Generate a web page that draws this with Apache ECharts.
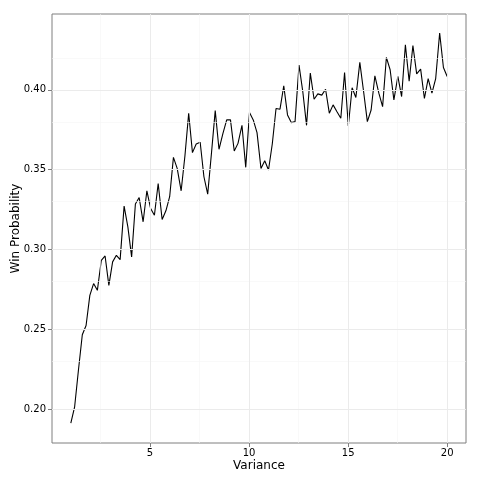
<!DOCTYPE html>
<html><head><meta charset="utf-8">
<script src="https://cdn.jsdelivr.net/npm/echarts@6/dist/echarts.min.js"></script>
<style>html,body{margin:0;padding:0;background:#fff}#c{width:480px;height:480px}</style>
</head><body><div id="c"></div>
<script>
const variance = [1.00,1.19,1.38,1.58,1.77,1.96,2.15,2.34,2.54,2.73,2.92,3.11,3.30,3.49,3.69,3.88,4.07,4.26,4.45,4.65,4.84,5.03,5.22,5.41,5.61,5.80,5.99,6.18,6.37,6.57,6.76,6.95,7.14,7.33,7.53,7.72,7.91,8.10,8.29,8.48,8.68,8.87,9.06,9.25,9.44,9.64,9.83,10.02,10.21,10.40,10.60,10.79,10.98,11.17,11.36,11.56,11.75,11.94,12.13,12.32,12.52,12.71,12.90,13.09,13.28,13.47,13.67,13.86,14.05,14.24,14.43,14.63,14.82,15.01,15.20,15.39,15.59,15.78,15.97,16.16,16.35,16.55,16.74,16.93,17.12,17.31,17.51,17.70,17.89,18.08,18.27,18.46,18.66,18.85,19.04,19.23,19.42,19.62,19.81,20.00];
const winProb = [0.1914,0.2013,0.2240,0.2467,0.2525,0.2713,0.2787,0.2745,0.2933,0.2960,0.2776,0.2923,0.2964,0.2937,0.3272,0.3142,0.2954,0.3285,0.3326,0.3174,0.3368,0.3257,0.3215,0.3414,0.3188,0.3243,0.3331,0.3577,0.3508,0.3368,0.3586,0.3854,0.3607,0.3661,0.3672,0.3456,0.3347,0.3603,0.3870,0.3628,0.3728,0.3812,0.3812,0.3617,0.3665,0.3778,0.3515,0.3858,0.3812,0.3732,0.3508,0.3556,0.3498,0.3661,0.3883,0.3879,0.4025,0.3843,0.3795,0.3801,0.4155,0.3990,0.3778,0.4105,0.3941,0.3975,0.3967,0.4004,0.3854,0.3906,0.3864,0.3822,0.4109,0.3774,0.4013,0.3952,0.4172,0.3990,0.3801,0.3874,0.4088,0.3979,0.3895,0.4203,0.4126,0.3937,0.4084,0.3958,0.4282,0.4054,0.4278,0.4100,0.4130,0.3946,0.4071,0.3979,0.4071,0.4356,0.4140,0.4084];
const xTicks = [5, 10, 15, 20];
const xMinor = [2.5, 7.5, 12.5, 17.5];
const yTicks = [0.20, 0.25, 0.30, 0.35, 0.40];
const yMinor = [0.225, 0.275, 0.325, 0.375, 0.425];

const chart = echarts.init(document.getElementById('c'), null, {renderer: 'canvas'});
const font = 'DejaVu Sans';
const gridLines = [];
xMinor.forEach(v => gridLines.push({xAxis: v, lineStyle: {color: '#f5f5f5', width: 0.6, type: 'solid'}}));
yMinor.forEach(v => gridLines.push({yAxis: v, lineStyle: {color: '#f5f5f5', width: 0.6, type: 'solid'}}));
xTicks.forEach(v => gridLines.push({xAxis: v, lineStyle: {color: '#ebebeb', width: 1, type: 'solid'}}));
yTicks.forEach(v => gridLines.push({yAxis: v, lineStyle: {color: '#ebebeb', width: 1, type: 'solid'}}));

chart.setOption({
  animation: false,
  grid: {left: 52, right: 14, top: 14, bottom: 37, outerBoundsMode: 'none', containLabel: false,
         show: true, borderColor: '#7f7f7f', borderWidth: 1, backgroundColor: '#fff'},
  xAxis: {
    type: 'value', min: 0.05, max: 20.95,
    name: 'Variance', nameLocation: 'middle', nameGap: 17, nameMoveOverlap: false,
    nameTextStyle: {fontFamily: font, fontSize: 12, color: '#000'},
    axisLine: {show: false},
    axisTick: {show: true, length: 4, lineStyle: {color: '#7f7f7f'}, customValues: xTicks},
    axisLabel: {fontFamily: font, fontSize: 10, color: '#000', margin: 5, customValues: xTicks, formatter: v => String(v)},
    splitLine: {show: false}
  },
  yAxis: {
    type: 'value', min: 0.1789, max: 0.4475,
    name: 'Win Probability', nameLocation: 'middle', nameGap: 30, nameMoveOverlap: false,
    nameTextStyle: {fontFamily: font, fontSize: 12, color: '#000'},
    axisLine: {show: false},
    axisTick: {show: true, length: 4, lineStyle: {color: '#7f7f7f'}, customValues: yTicks},
    axisLabel: {fontFamily: font, fontSize: 10, color: '#000', margin: 6, customValues: yTicks, formatter: v => v.toFixed(2)},
    splitLine: {show: false}
  },
  series: [
    {type: 'line', data: [], silent: true, z: 1,
     markLine: {silent: true, symbol: 'none', label: {show: false}, data: gridLines, animation: false}},
    {type: 'line', z: 3, data: variance.map((x, i) => [x, winProb[i]]),
     showSymbol: false, symbol: 'none', lineStyle: {color: '#000', width: 1.1}, itemStyle: {color: '#000'}}
  ]
});
</script></body></html>
